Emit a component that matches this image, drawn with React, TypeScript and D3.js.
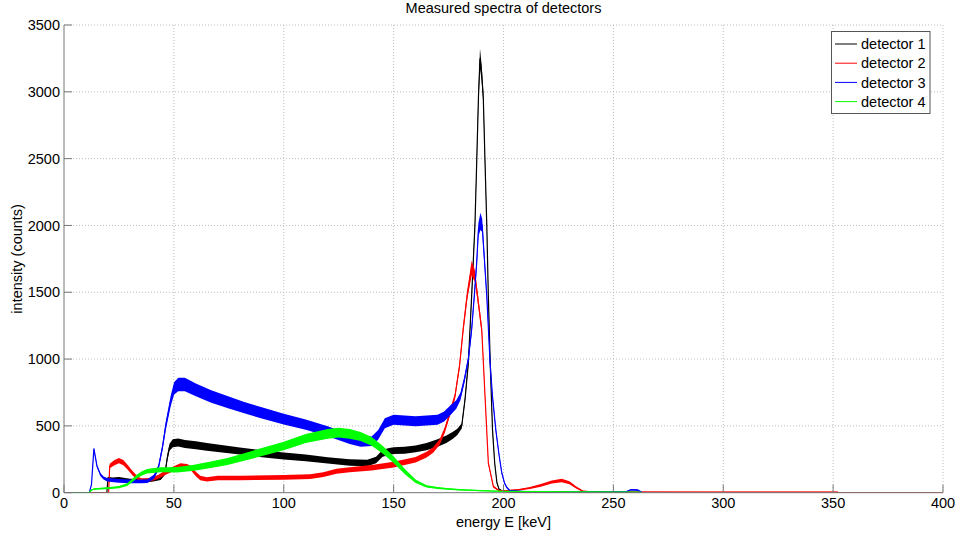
import React from "react";
import * as d3 from "d3";

// [energy keV, mean counts, noise half-width]
const detector1: [number, number, number][] = [
  [0, 0, 0], [19.5, 0, 0], [20, 110, 10], [22, 100, 13], [25, 105, 13], [30, 92, 13], [35, 90, 13], [40, 95, 13],
  [44, 110, 15], [46, 150, 16], [47, 260, 22], [48, 340, 26], [49.5, 370, 30], [52, 375, 30], [55, 365, 30],
  [60, 355, 30], [65, 342, 29], [70, 332, 28], [80, 312, 27], [90, 292, 26], [100, 275, 26], [110, 260, 25],
  [120, 242, 24], [130, 226, 24], [138, 222, 24], [142, 245, 24], [145, 295, 26], [148, 308, 26], [150, 315, 26],
  [155, 318, 26], [160, 328, 26], [165, 344, 27], [170, 372, 28], [174, 400, 28], [177, 430, 27], [179, 455, 24],
  [181, 500, 20], [182.5, 700, 20], [184, 970, 25], [185.5, 1470, 30], [187, 2000, 30], [187.8, 2470, 40],
  [188.6, 2960, 50], [189.3, 3250, 75], [190, 3150, 60], [190.8, 2960, 50], [191.6, 2470, 40], [192.4, 2000, 30],
  [193.1, 1470, 30], [194, 950, 25], [195, 470, 20], [196, 220, 10], [197, 75, 8], [198, 25, 5], [200, 8, 3],
  [205, 4, 3], [260, 3, 2], [262, 0, 0],
];

const detector2: [number, number, number][] = [
  [0, 0, 0], [20.3, 0, 0], [20.8, 200, 17], [23, 225, 20], [25, 240, 20], [27, 225, 20], [29, 190, 18],
  [31, 150, 17], [33, 115, 15], [35, 95, 13], [38, 95, 13], [40, 100, 13], [43, 120, 15], [46, 150, 17],
  [50, 180, 18], [53, 200, 20], [56, 195, 20], [58, 180, 18], [60, 140, 17], [62, 110, 16], [65, 100, 16],
  [70, 110, 17], [80, 110, 17], [100, 115, 18], [112, 120, 18], [118, 135, 18], [124, 160, 19], [130, 172, 19],
  [140, 187, 20], [150, 210, 21], [160, 247, 21], [165, 285, 21], [168, 320, 21], [171, 380, 21], [173.3, 470, 22],
  [175.6, 595, 22], [177.9, 720, 22], [180, 950, 25], [181.7, 1230, 30], [183.5, 1480, 35], [185.5, 1680, 55],
  [187, 1620, 45], [188.5, 1430, 35], [190.1, 1219, 30], [191.6, 720, 20], [193.1, 222, 12], [195.4, 45, 8],
  [198, 15, 5], [202, 15, 5], [207, 22, 6], [212, 35, 8], [217, 55, 10], [222, 80, 12], [226.5, 92, 13],
  [230, 75, 11], [233, 40, 8], [236, 12, 4], [240, 6, 3], [300, 5, 3], [352, 5, 3], [352.5, 0, 0], [400, 0, 0],
];

const detector3: [number, number, number][] = [
  [0, 0, 0], [11.5, 0, 0], [12.5, 60, 5], [13.6, 330, 10], [15, 200, 10], [16.6, 135, 11], [18, 110, 12],
  [19.6, 97, 13], [25, 88, 14], [30, 85, 14], [35, 85, 14], [38, 87, 14], [41, 120, 16], [43, 190, 20],
  [44.8, 340, 26], [46.3, 500, 32], [48.6, 690, 40], [50.1, 780, 46], [52, 810, 50], [55, 810, 50], [60, 770, 48],
  [67, 720, 46], [75, 675, 44], [82, 636, 42], [90, 598, 42], [100, 550, 40], [110, 509, 38], [120, 460, 37],
  [130, 400, 36], [135, 380, 36], [140, 385, 36], [143, 434, 36], [146, 520, 38], [150, 546, 38], [160, 535, 38],
  [170, 546, 38], [173, 570, 38], [176, 620, 36], [178.5, 660, 32], [180.4, 720, 28], [182.2, 845, 25],
  [184, 1000, 25], [185.5, 1219, 30], [186.7, 1470, 30], [187.8, 1720, 40], [188.6, 1970, 50], [189.5, 2030, 65],
  [190.3, 2000, 50], [191.3, 1750, 40], [192.4, 1470, 30], [193.9, 970, 25], [195, 720, 20], [196.5, 470, 18],
  [198, 280, 12], [199.2, 150, 10], [200.5, 70, 6], [201.6, 37, 5], [203, 15, 4], [210, 8, 3], [250, 6, 3],
  [256, 8, 3], [258, 22, 5], [261, 20, 5], [262.5, 8, 3], [263, 0, 0],
];

const detector4: [number, number, number][] = [
  [0, 0, 0], [11.3, 0, 0], [12.5, 20, 4], [14, 28, 5], [21, 35, 7], [25, 42, 8], [28.7, 60, 10], [31, 90, 12],
  [33.2, 122, 14], [35.5, 145, 16], [37.8, 160, 17], [43.8, 172, 19], [51.6, 172, 20], [59.2, 187, 22],
  [66.8, 209, 24], [74.4, 234, 26], [82, 268, 28], [88, 295, 30], [100, 350, 32], [110, 405, 34], [120, 440, 36],
  [125, 450, 36], [130, 440, 36], [135, 421, 34], [140, 384, 32], [145, 322, 29], [150, 247, 25], [155, 160, 20],
  [160, 85, 13], [165, 47, 9], [170, 35, 7], [175, 28, 6], [180, 22, 5], [190, 15, 4], [200, 10, 3], [230, 6, 3],
  [262, 4, 2], [263, 0, 0],
];

const seriesNames = ["detector 1", "detector 2", "detector 3", "detector 4"];
const seriesColors = ["#000000", "#ff0000", "#0000ff", "#00ff00"];
const seriesData = [detector1, detector2, detector3, detector4];

const xTicks = [0, 50, 100, 150, 200, 250, 300, 350, 400];
const yTicks = [0, 500, 1000, 1500, 2000, 2500, 3000, 3500];

const titleText = "Measured spectra of detectors";
const xLabel = "energy E [keV]";
const yLabel = "intensity (counts)";

const W = 959;
const H = 538;
const L = 64;
const R = 943;
const T = 25;
const B = 492.7;
const FONT = "'Liberation Sans', Arial, Helvetica, sans-serif";
const FS = 14.5;

export default function App() {
  const x = d3.scaleLinear().domain([0, 400]).range([L, R]);
  const y = d3.scaleLinear().domain([0, 3500]).range([B, T]);

  const area = d3
    .area<[number, number, number]>()
    .x((d) => x(d[0]))
    .y0((d) => y(Math.max(0, d[1] - d[2])))
    .y1((d) => y(d[1] + d[2]));
  const line = d3
    .line<[number, number, number]>()
    .x((d) => x(d[0]))
    .y((d) => y(d[1]));

  const axisColor = "#777";
  const gridColor = "#bdbdbd";

  return (
    <svg
      width={W}
      height={H}
      style={{ position: "absolute", left: 0, top: 0, background: "#fff" }}
      fontFamily={FONT}
    >
      <rect x={0} y={0} width={W} height={H} fill="#fff" />
      <defs>
        <clipPath id="plotclip">
          <rect x={L} y={T - 2} width={R - L} height={B - T + 2} />
        </clipPath>
      </defs>
      {/* grid */}
      {xTicks.map((t) =>
        t === 0 ? null : (
          <line key={"gx" + t} x1={x(t)} x2={x(t)} y1={T} y2={B} stroke={gridColor} strokeWidth={1} strokeDasharray="1,2" />
        )
      )}
      {yTicks.map((t) =>
        t === 0 ? null : (
          <line key={"gy" + t} x1={L} x2={R} y1={y(t)} y2={y(t)} stroke={gridColor} strokeWidth={1} strokeDasharray="1,2" />
        )
      )}
      {/* series */}
      <g clipPath="url(#plotclip)">
        {seriesData.map((data, i) => (
          <g key={seriesNames[i]}>
            <path d={area(data) || ""} fill={seriesColors[i]} stroke="none" />
            <path d={line(data) || ""} fill="none" stroke={seriesColors[i]} strokeWidth={1.2} />
          </g>
        ))}
      </g>
      {/* axes */}
      <line x1={L} x2={L} y1={T} y2={B} stroke={axisColor} strokeWidth={1} />
      <line x1={L} x2={R} y1={B} y2={B} stroke={axisColor} strokeWidth={1} />
      {xTicks.map((t) => (
        <g key={"xt" + t}>
          <line x1={x(t)} x2={x(t)} y1={B} y2={B - 8} stroke={axisColor} strokeWidth={1} />
          <text x={x(t)} y={508.3} fontSize={FS} textAnchor="middle" fill="#000">
            {t}
          </text>
        </g>
      ))}
      {yTicks.map((t) => (
        <g key={"yt" + t}>
          <line x1={L} x2={L + 8} y1={y(t)} y2={y(t)} stroke={axisColor} strokeWidth={1} />
          <text x={60} y={y(t)} dy="0.36em" fontSize={FS} textAnchor="end" fill="#000">
            {t}
          </text>
        </g>
      ))}
      {/* labels */}
      <text x={(L + R) / 2} y={13.3} fontSize={FS} textAnchor="middle" fill="#000">
        {titleText}
      </text>
      <text x={(L + R) / 2} y={526.5} fontSize={FS} textAnchor="middle" fill="#000">
        {xLabel}
      </text>
      <text transform={`translate(22,${(T + B) / 2}) rotate(-90)`} fontSize={FS} textAnchor="middle" fill="#000">
        {yLabel}
      </text>
      {/* legend */}
      <rect x={831.5} y={31.5} width={98.5} height={82} fill="#fff" stroke="#555" strokeWidth={1} />
      {seriesNames.map((name, i) => {
        const ry = 44 + i * 19.2;
        return (
          <g key={"lg" + name}>
            <line x1={835} x2={857} y1={ry} y2={ry} stroke={seriesColors[i]} strokeWidth={1} />
            <text x={861} y={ry} dy="0.36em" fontSize={FS} fill="#000">
              {name}
            </text>
          </g>
        );
      })}
    </svg>
  );
}
